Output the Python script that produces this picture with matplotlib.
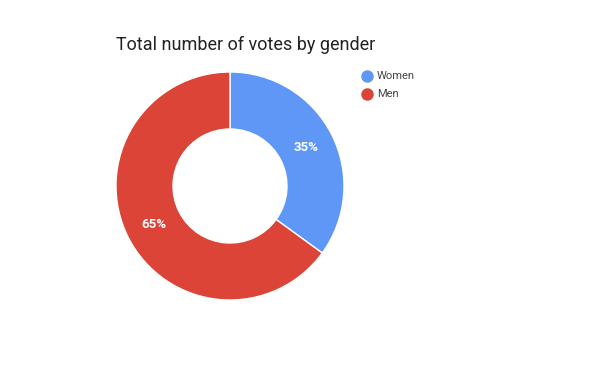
import matplotlib
matplotlib.use("Agg")
import matplotlib.pyplot as plt
from matplotlib.lines import Line2D

plt.rcParams['font.family'] = ['Roboto', 'DejaVu Sans']

title = "Total number of votes by gender"
categories = ["Women", "Men"]
values = [35, 65]
colors = ["#5E97F6", "#DB4437"]

W, H = 600, 371
fig = plt.figure(figsize=(W/100, H/100), dpi=100)
cx, cy, r = 230, 186, 114
ax = fig.add_axes([(cx - r)/W, (H - cy - r)/H, 2*r/W, 2*r/H])
wedges, texts, autotexts = ax.pie(values, colors=colors, startangle=90, counterclock=False,
       radius=1, wedgeprops=dict(width=0.5, edgecolor='white', linewidth=1),
       autopct='%d%%', pctdistance=0.75,
       textprops=dict(color='white', fontsize=9.5, fontweight='bold'))
ax.set_xlim(-1, 1); ax.set_ylim(-1, 1)
ax.set_aspect('equal')
ax.axis('off')

fig.text(116/W, 1 - 50/H, title, fontsize=13, color='#222222', va='baseline', ha='left')

for i, (c, col) in enumerate(zip(categories, colors)):
    y = 76 + 18*i
    fig.add_artist(Line2D([367/W], [1 - y/H], marker='o', markersize=9, color=col,
                          markeredgewidth=0, transform=fig.transFigure))
    fig.text(377/W, 1 - y/H, c, fontsize=8, color='#444444', va='center', ha='left')

fig.savefig("out.png", dpi=100)
